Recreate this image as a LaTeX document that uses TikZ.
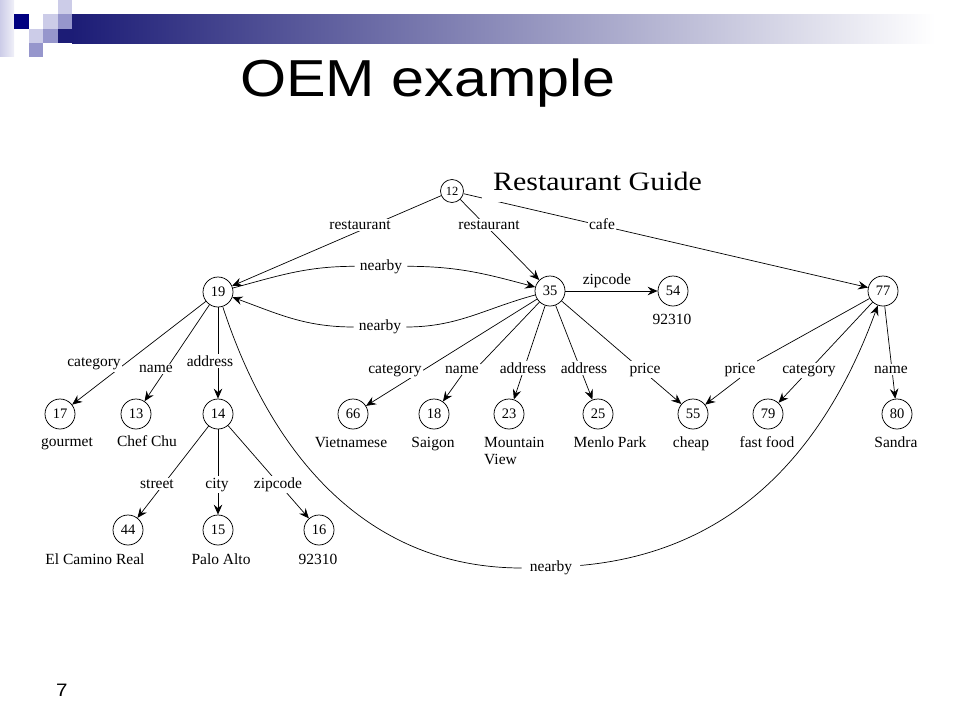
\documentclass[tikz,border=0pt]{standalone}
\usepackage{fontspec}
\setmainfont{Liberation Serif}
\newfontfamily\titlefont[FakeStretch=1.14]{Liberation Sans}
\newfontfamily\guidefont[FakeStretch=1.13]{Liberation Serif}
\usetikzlibrary{arrows.meta}
\definecolor{barnavy}{RGB}{28,28,118}
\definecolor{sqdark}{RGB}{0,0,128}
\definecolor{sqlight}{RGB}{204,204,232}
\definecolor{sqmed}{RGB}{150,150,204}
\tikzset{
  obj/.style={circle, draw, line width=0.75pt, minimum size=30pt, inner sep=0pt,
              font=\fontsize{14.5}{14.5}\selectfont},
  lab/.style={inner sep=1.5pt, fill=white, anchor=base, font=\fontsize{15.5}{15.5}\selectfont},
  nblab/.style={lab, inner xsep=5pt},
  val/.style={inner sep=1pt, anchor=base, font=\fontsize{15.5}{17}\selectfont},
  edge/.style={line width=0.7pt},
  arr/.style={edge, -{Stealth[length=10pt,width=8.5pt,inset=3.5pt]}}
}
\begin{document}
\begin{tikzpicture}[x=1pt,y=1pt]
\useasboundingbox (0,0) rectangle (960,-720);
% slide decoration
\shade[left color=sqlight, right color=sqlight!30] (0,0) rectangle (14,-56);
\fill[sqlight] (43,-14) rectangle (58,-29);
\fill[sqlight] (58,0) rectangle (72,-14);
\fill[sqmed] (58,-14) rectangle (72,-29);
\fill[sqlight] (29,-29) rectangle (43,-43);
\fill[sqmed] (43,-29) rectangle (58,-43);
\fill[sqmed] (29,-43) rectangle (43,-57);
\fill[sqdark] (14,-14) rectangle (29,-29);
\fill[barnavy] (58,-29) rectangle (72,-43);
\shade[left color=barnavy, right color=white] (72,-14) rectangle (935,-43);
\node[anchor=base west, inner sep=0pt, font=\titlefont\fontsize{52}{54}\selectfont] (title) at (240,-96.7) {OEM example};
\node[anchor=base west, inner sep=0pt, font=\titlefont\fontsize{18}{18}\selectfont] (pgnum) at (56,-696.7) {7};

% objects
\node[obj, minimum size=23pt, font=\fontsize{12.5}{12.5}\selectfont] (n12) at (452,-191) {12};
\node[obj] (n19) at (218,-292) {19};
\node[obj] (n35) at (550,-291) {35};
\node[obj] (n54) at (673,-291) {54};
\node[obj] (n77) at (883,-291) {77};
\node[obj] (n17) at (60,-414) {17};
\node[obj] (n13) at (136,-414) {13};
\node[obj] (n14) at (218,-414) {14};
\node[obj] (n66) at (353,-414) {66};
\node[obj] (n18) at (434,-414) {18};
\node[obj] (n23) at (509,-414) {23};
\node[obj] (n25) at (598,-414) {25};
\node[obj] (n55) at (693,-414) {55};
\node[obj] (n79) at (768,-414) {79};
\node[obj] (n80) at (897,-414) {80};
\node[obj] (n44) at (128,-530) {44};
\node[obj] (n15) at (218,-530) {15};
\node[obj] (n16) at (319,-530) {16};

% atomic values
\node[val] (vgourmet) at (67,-446.7) {gourmet};
\node[val] (vchef) at (147,-446.7) {Chef Chu};
\node[val] (vviet) at (351,-447) {Vietnamese};
\node[val] (vsaigon) at (433,-447) {Saigon};
\node[val, anchor=base west, inner sep=0pt] (vmount) at (484,-447)
  {\begin{tabular}[t]{@{}l@{}}Mountain\\View\end{tabular}};
\node[val] (vmenlo) at (610,-447) {Menlo Park};
\node[val] (vcheap) at (691,-447) {cheap};
\node[val] (vfast) at (767,-447) {fast food};
\node[val] (vsandra) at (896,-447) {Sandra};
\node[val] (vzipa) at (672,-324) {92310};
\node[val] (vcamino) at (95,-564) {El Camino Real};
\node[val] (vpalo) at (221,-564) {Palo Alto};
\node[val] (vzipb) at (318,-564) {92310};

% straight edges (labels drawn on top)
\draw[arr] (n12) -- (n19);
\draw[arr] (n12) -- (n35);
\draw[arr] (n12) -- (n77);
\draw[arr] (n19) -- (n17);
\draw[arr] (n19) -- (n13);
\draw[arr] (n19) -- (n14);
\draw[arr] (n35) -- (n66);
\draw[arr] (n35) -- (n23);
\draw[arr] (n35) -- (n25);
\draw[arr] (n35) -- (n55);
\draw[arr] (n77) -- (n79);
\draw[arr] (n77) -- (n80);
\draw[arr] (n14) -- (n44);
\draw[arr] (n14) -- (n15);
\draw[arr] (n14) -- (n16);

% edge labels
\node[lab] (r1) at (360,-229) {restaurant};
\node[lab] (r2) at (489,-229) {restaurant};
\node[lab] (cafe) at (602,-229) {cafe};
\node[lab] (c19) at (94,-366.7) {category};
\node[lab] (n19l) at (156,-372.7) {name};
\node[lab] (a19) at (210,-366) {address};
\node[lab] (c35) at (395,-373) {category};
\node[lab] (n35l) at (462,-373) {name};
\node[lab] (a35a) at (523,-373) {address};
\node[lab] (a35b) at (584,-373) {address};
\node[lab] (p35) at (645,-373) {price};
\node[lab] (p77) at (740,-373) {price};
\node[lab] (c77) at (809,-373) {category};
\node[lab] (n77l) at (891,-373) {name};
\node[lab] (s14) at (157,-488) {street};
\node[lab] (ci14) at (217,-488) {city};
\node[lab] (z14) at (278,-488) {zipcode};

% jogged edges through their labels
\draw[edge] (n35) -- (n35l.north east);
\draw[arr] (n35l.south) -- (n18);
\draw[edge] (n77) -- (p77.north east);
\draw[arr] (p77.south) -- (n55);

% zipcode 35 -> 54
\draw[arr] (n35) -- (n54) node[pos=0.45, above=1pt, inner sep=1.5pt, font=\fontsize{15.5}{15.5}\selectfont] (z35) {zipcode};

% nearby curves
\node[nblab] (nb1) at (381,-270) {nearby};
\node[nblab] (nb2) at (380,-330.7) {nearby};
\node[nblab, inner xsep=8pt] (nb3) at (551,-571.7) {nearby};
\draw[edge] (n19) to[out=15,in=180] (nb1);
\draw[arr] (nb1) to[out=0,in=165] (n35);
\draw[edge] (n35) to[out=195,in=0] (nb2);
\draw[arr] (nb2) to[out=180,in=-20] (n19);
\draw[edge] (n19) to[out=-72,in=180] (nb3);
\draw[arr] (nb3) to[out=5,in=-110] (n77);

% caption
\node[anchor=base west, fill=white, inner xsep=11pt, inner ysep=1pt, text depth=10pt,
      font=\guidefont\fontsize{26.5}{28}\selectfont] (guide) at (482,-190.7) {Restaurant Guide};
\end{tikzpicture}
\end{document}
